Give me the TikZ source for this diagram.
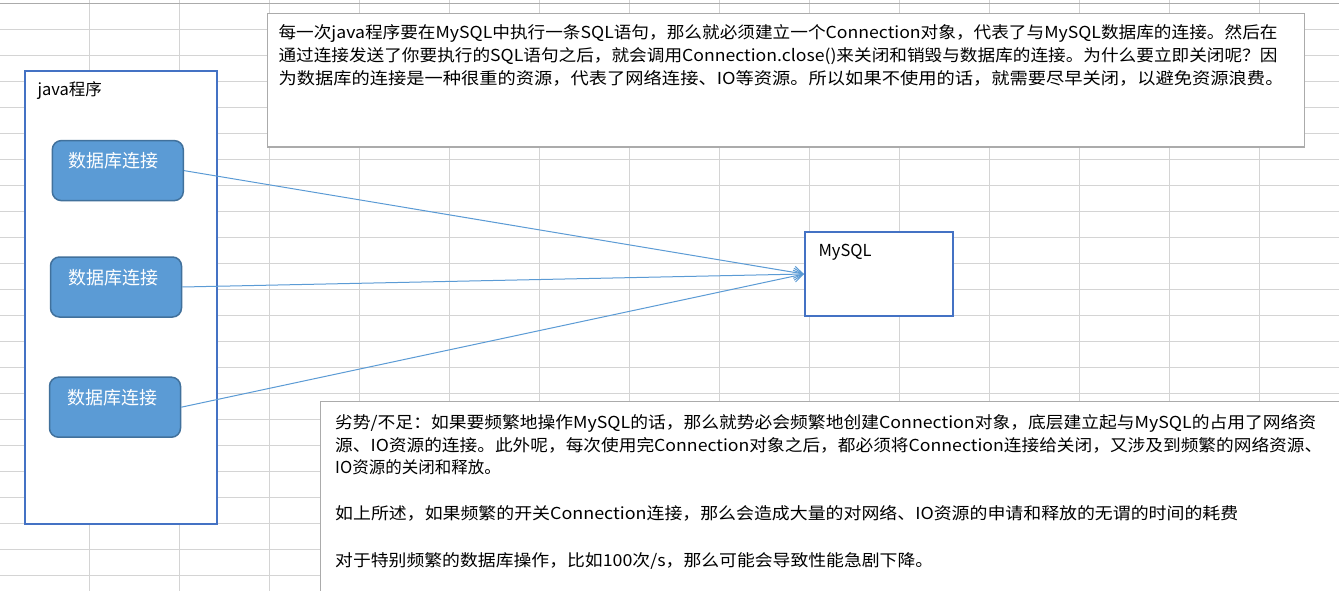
\documentclass[tikz,border=0pt]{standalone}
\usepackage{fontspec}
\setmainfont{Noto Sans CJK SC}
\usetikzlibrary{arrows.meta}
\definecolor{gridc}{HTML}{D4D4D4}
\definecolor{toplinec}{HTML}{ABABAB}
\definecolor{boxblue}{HTML}{4472C4}
\definecolor{connfill}{HTML}{5B9BD5}
\definecolor{connedge}{HTML}{41719C}
\definecolor{notec}{HTML}{ABABAB}
\definecolor{arrowc}{HTML}{5B9BD5}
\newcommand{\fitline}[2]{\resizebox{#1}{\height}{#2}}
\newcommand{\txtsize}{\fontsize{16.5pt}{20pt}\selectfont}
\begin{document}
\begin{tikzpicture}[x=1pt,y=-1pt,
  gridline/.style={draw=gridc,line width=1pt},
  toprule/.style={draw=toplinec,line width=1.3pt},
  notebox/.style={draw=notec,line width=1.2pt,fill=white,inner sep=0pt},
  container/.style={draw=boxblue,line width=2pt,fill=white,inner sep=0pt},
  conn/.style={rounded corners=9pt,fill=connfill,draw=connedge,line width=1.5pt,
    text=white,minimum width=131pt,inner sep=0pt,
    font=\fontsize{18pt}{20pt}\selectfont,text height=27pt,text depth=33pt},
  lbl/.style={anchor=base west,inner sep=0pt,font=\txtsize,text=black},
  txtline/.style={anchor=base west,inner sep=0pt,font=\txtsize,text=black},
  conarrow/.style={draw=arrowc,line width=1pt,-{Straight Barb[length=9pt,width=12pt]}}
]
\useasboundingbox (0,0) rectangle (1339,591);
\clip (0,0) rectangle (1339,591);
\fill[white] (0,0) rectangle (1339,591);
% spreadsheet grid
\foreach \k in {0,...,13} \draw[gridline] ({89+90*\k},0) -- ({89+90*\k},591);
\foreach \k in {1,...,22} \draw[gridline] (0,{3.5+26*\k}) -- (1339,{3.5+26*\k});
\draw[toprule] (0,3.5) -- (1339,3.5);

% note boxes
\node[notebox,minimum width=1037.5pt,minimum height=133.7pt] (notetop) at (786.05,80.15) {};
\node[notebox,minimum width=1039.3pt,minimum height=218.7pt] (notebot) at (840.35,510.65) {};

% java program container
\node[container,minimum width=192pt,minimum height=453.3pt] (java) at (121,297.35) {};
\node[lbl] (javalbl) at (37.3,96) {java程序};

% connections
\node[conn] (c1) at (117.8,170.6) {数据库连接\kern9pt};
\node[conn] (c2) at (116,287) {数据库连接\kern6pt};
\node[conn] (c3) at (115,407.2) {数据库连接\kern6pt};

% MySQL
\node[container,minimum width=148.3pt,minimum height=84pt] (mysql) at (879.15,274) {};
\node[lbl] (mysqllbl) at (818.3,256) {MySQL};

\draw[conarrow] (c1.east) -- (mysql.west);
\draw[conarrow] (c2.east) -- (mysql.west);
\draw[conarrow] (c3.east) -- (mysql.west);

% top note text
\node[txtline] (t1) at (278.3,39) {\fitline{999pt}{每一次java程序要在MySQL中执行一条SQL语句，那么就必须建立一个Connection对象，代表了与MySQL数据库的连接。然后在}};
\node[txtline] (t2) at (278.3,62) {\fitline{999pt}{通过连接发送了你要执行的SQL语句之后，就会调用Connection.close()来关闭和销毁与数据库的连接。为什么要立即关闭呢？因}};
\node[txtline] (t3) at (278.3,85) {\fitline{1005pt}{为数据库的连接是一种很重的资源，代表了网络连接、IO等资源。所以如果不使用的话，就需要尽早关闭，以避免资源浪费。}};

% bottom note text
\node[txtline] (b1) at (335,428.5) {\fitline{981pt}{劣势/不足：如果要频繁地操作MySQL的话，那么就势必会频繁地创建Connection对象，底层建立起与MySQL的占用了网络资}};
\node[txtline] (b2) at (335,451) {\fitline{987pt}{源、IO资源的连接。此外呢，每次使用完Connection对象之后，都必须将Connection连接给关闭，又涉及到频繁的网络资源、}};
\node[txtline] (b3) at (335,473.5) {IO资源的关闭和释放。};
\node[txtline] (b4) at (335,519.5) {\fitline{903pt}{如上所述，如果频繁的开关Connection连接，那么会造成大量的对网络、IO资源的申请和释放的无谓的时间的耗费}};
\node[txtline] (b5) at (335,566) {\fitline{598pt}{对于特别频繁的数据库操作，比如100次/s，那么可能会导致性能急剧下降。}};
\end{tikzpicture}
\end{document}
